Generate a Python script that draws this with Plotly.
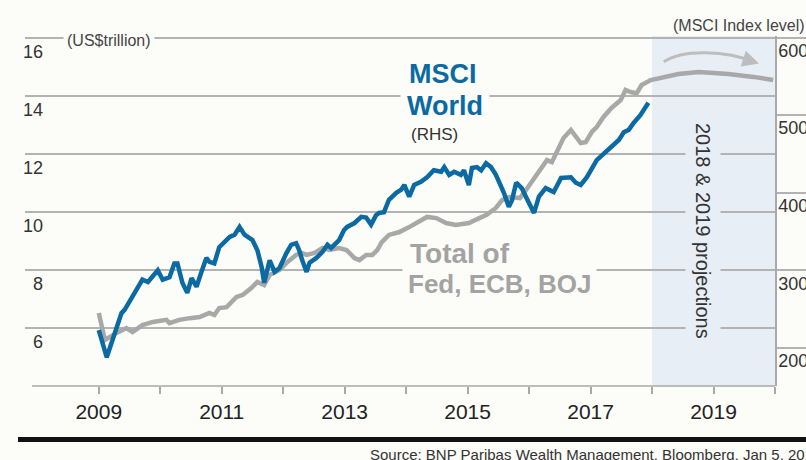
import plotly.graph_objects as go

# ---------------- data ----------------
msci_year = [2009.00, 2009.13, 2009.26, 2009.37, 2009.42, 2009.54, 2009.62, 2009.71, 2009.80, 2009.86,
             2009.96, 2010.04, 2010.15, 2010.23, 2010.28, 2010.36, 2010.44, 2010.51, 2010.59, 2010.67,
             2010.75, 2010.80, 2010.88, 2010.96, 2011.08, 2011.13, 2011.21, 2011.29, 2011.37, 2011.50,
             2011.58, 2011.65, 2011.69, 2011.78, 2011.86, 2011.94, 2012.05, 2012.13, 2012.21, 2012.26,
             2012.31, 2012.38, 2012.43, 2012.54, 2012.64, 2012.72, 2012.78, 2012.91, 2012.99, 2013.04,
             2013.16, 2013.27, 2013.35, 2013.43, 2013.51, 2013.56, 2013.64, 2013.72, 2013.84, 2013.92,
             2013.97, 2014.05, 2014.13, 2014.24, 2014.34, 2014.45, 2014.57, 2014.62, 2014.70, 2014.78,
             2014.89, 2014.94, 2015.02, 2015.07, 2015.15, 2015.22, 2015.30, 2015.38, 2015.46, 2015.54,
             2015.59, 2015.67, 2015.72, 2015.79, 2015.88, 2015.96, 2016.08, 2016.16, 2016.27, 2016.40,
             2016.52, 2016.68, 2016.76, 2016.84, 2016.94, 2017.10, 2017.25, 2017.38, 2017.46, 2017.54,
             2017.62, 2017.70, 2017.81, 2017.94]
msci_value = [223, 188, 219, 245, 249, 266, 277, 288, 285, 290,
              300, 288, 291, 309, 309, 284, 271, 290, 279, 298,
              316, 311, 309, 330, 339, 343, 346, 356, 346, 339,
              326, 304, 284, 313, 298, 303, 322, 333, 335, 326,
              313, 298, 310, 316, 324, 333, 329, 339, 352, 356,
              361, 369, 368, 359, 371, 374, 375, 391, 400, 404,
              410, 395, 410, 414, 420, 429, 427, 433, 423, 427,
              423, 429, 410, 432, 433, 429, 438, 433, 423, 410,
              400, 382, 390, 413, 406, 393, 374, 395, 406, 401,
              419, 420, 413, 410, 420, 442, 453, 464, 468, 478,
              481, 490, 500, 516]

cb_year = [2009.00, 2009.10, 2009.29, 2009.45, 2009.55, 2009.71, 2009.88, 2010.10, 2010.15, 2010.31,
           2010.48, 2010.64, 2010.80, 2010.88, 2010.96, 2011.08, 2011.24, 2011.34, 2011.48, 2011.58,
           2011.69, 2011.78, 2011.94, 2012.07, 2012.21, 2012.30, 2012.38, 2012.51, 2012.64, 2012.75,
           2012.91, 2013.03, 2013.16, 2013.24, 2013.35, 2013.45, 2013.53, 2013.60, 2013.72, 2013.89,
           2014.05, 2014.21, 2014.34, 2014.49, 2014.65, 2014.81, 2015.02, 2015.19, 2015.31, 2015.46,
           2015.56, 2015.68, 2015.85, 2015.95, 2016.03, 2016.13, 2016.21, 2016.29, 2016.37, 2016.48,
           2016.56, 2016.68, 2016.76, 2016.84, 2016.92, 2017.02, 2017.10, 2017.21, 2017.34, 2017.49,
           2017.57, 2017.65, 2017.75, 2017.83, 2017.98, 2018.11, 2018.43, 2018.76, 2019.24, 2019.65,
           2019.97]
cb_value = [6.52, 5.59, 5.83, 6.00, 5.86, 6.10, 6.21, 6.28, 6.17, 6.28,
            6.34, 6.38, 6.52, 6.45, 6.69, 6.72, 7.07, 7.14, 7.38, 7.59,
            7.48, 7.83, 8.00, 8.28, 8.52, 8.59, 8.52, 8.59, 8.76, 8.69,
            8.76, 8.69, 8.41, 8.34, 8.52, 8.52, 8.69, 8.95, 9.21, 9.31,
            9.48, 9.66, 9.83, 9.79, 9.62, 9.55, 9.62, 9.79, 9.90, 10.14,
            10.41, 10.52, 10.48, 10.76, 11.00, 11.28, 11.52, 11.79, 11.72, 12.24,
            12.55, 12.83, 12.59, 12.38, 12.41, 12.76, 12.93, 13.28, 13.59, 13.86,
            14.21, 14.14, 14.10, 14.38, 14.55, 14.62, 14.76, 14.83, 14.76, 14.66,
            14.55]

left_ticks = [6, 8, 10, 12, 14, 16]
right_ticks = [200, 300, 400, 500, 600]
x_tick_years = list(range(2009, 2021))
x_tick_text = [str(y) if y % 2 == 1 else "" for y in x_tick_years]
projection_span = [2018, 2020]

# ---------------- styling / layout ----------------
W, H = 806, 460
L, R, T, B = 25, 775, 36, 386
BG = "#fcfcf8"
SHADE = "#e8eef5"
GRID = "#b3b3b3"
BLUE = "#0b6aa2"
GREY_LINE = "#a8a8a8"
GREY_TEXT = "#a3a3a3"
FONT = "Liberation Sans, Arial, sans-serif"


def px(x):
    return (x - L) / (R - L)


def py(y):
    return (B - y) / (B - T)


fig = go.Figure()
fig.add_trace(go.Scatter(x=cb_year, y=cb_value, mode="lines",
                         line=dict(color=GREY_LINE, width=4.5), yaxis="y",
                         hoverinfo="skip", showlegend=False))
fig.add_trace(go.Scatter(x=msci_year, y=msci_value, mode="lines",
                         line=dict(color=BLUE, width=4.5), yaxis="y2",
                         hoverinfo="skip", showlegend=False))

shapes = [
    dict(type="rect", xref="x", yref="paper", x0=projection_span[0], x1=projection_span[1],
         y0=0, y1=1, fillcolor=SHADE, line=dict(width=0), layer="below"),
    # x baseline
    dict(type="line", xref="paper", yref="paper", x0=px(32), x1=1, y0=0, y1=0,
         line=dict(color="#a9a9a9", width=1.5)),
    # heavy rule at bottom
    dict(type="line", xref="paper", yref="paper", x0=px(18), x1=px(830), y0=py(439.5), y1=py(439.5),
         line=dict(color="#111111", width=5)),
    # curved projection arrow
    dict(type="path", xref="x", yref="y",
         path="M 2018.19,15.18 C 2018.5,15.62 2019.2,15.58 2019.68,15.16",
         line=dict(color="#bdbdbd", width=3)),
]

annotations = [
    dict(x=2019.74, y=15.12, ax=2019.56, ay=15.24, xref="x", yref="y", axref="x", ayref="y",
         text="", showarrow=True, arrowhead=2, arrowsize=1.1, arrowwidth=3, arrowcolor="#bdbdbd"),
    dict(x=px(63), y=py(40), xref="paper", yref="paper", xanchor="left", yanchor="middle",
         text="(US$trillion)", showarrow=False, font=dict(family=FONT, size=16, color="#444"),
         bgcolor=BG, borderpad=3),
    dict(x=px(671), y=py(25), xref="paper", yref="paper", xanchor="left", yanchor="middle",
         text="(MSCI Index level)", showarrow=False, font=dict(family=FONT, size=16, color="#444")),
    dict(x=px(408), y=py(74), xref="paper", yref="paper", xanchor="left", yanchor="middle",
         text="<b>MSCI</b>", showarrow=False, font=dict(family=FONT, size=27, color=BLUE),
         bgcolor=BG, borderpad=0),
    dict(x=px(400), y=py(106), xref="paper", yref="paper", xanchor="left", yanchor="middle",
         text="<b>World</b>", showarrow=False, font=dict(family=FONT, size=27, color=BLUE),
         bgcolor=BG, borderpad=6),
    dict(x=px(409), y=py(134), xref="paper", yref="paper", xanchor="left", yanchor="middle",
         text="(RHS)", showarrow=False, font=dict(family=FONT, size=17, color="#333")),
    dict(x=px(408), y=py(253), xref="paper", yref="paper", xanchor="left", yanchor="middle",
         text="<b>Total of</b>", showarrow=False, font=dict(family=FONT, size=28, color=GREY_TEXT)),
    dict(x=px(402), y=py(284), xref="paper", yref="paper", xanchor="left", yanchor="middle",
         text="<b>Fed, ECB, BOJ</b>", showarrow=False, font=dict(family=FONT, size=26, color=GREY_TEXT),
         bgcolor=BG, borderpad=5),
    dict(x=px(703), y=py(231), xref="paper", yref="paper", xanchor="center", yanchor="middle",
         text="2018 & 2019 projections", textangle=90, showarrow=False,
         font=dict(family=FONT, size=20, color="#333"), bgcolor=SHADE, borderpad=6),
    dict(x=px(368), y=py(454), xref="paper", yref="paper", xanchor="left", yanchor="middle",
         text="Source: BNP Paribas Wealth Management, Bloomberg, Jan 5, 2018", showarrow=False,
         font=dict(family=FONT, size=15, color="#333")),
]

fig.update_layout(
    template="none",
    width=W, height=H,
    margin=dict(l=L, r=W - R, t=T, b=H - B, pad=0, autoexpand=False),
    paper_bgcolor=BG, plot_bgcolor=BG,
    font=dict(family=FONT, color="#333"),
    xaxis=dict(range=[2007.8, 2020.0], tickvals=x_tick_years, ticktext=x_tick_text,
               ticks="outside", ticklen=7, tickwidth=1.5, tickcolor="#a9a9a9", automargin=False,
               showgrid=False, zeroline=False, showline=False,
               tickfont=dict(family=FONT, size=21, color="#222")),
    yaxis=dict(range=[4, 16.07], tickvals=left_ticks, showgrid=True, gridcolor=GRID, gridwidth=1.5,
               zeroline=False, showline=False, ticks="", automargin=False,
               ticklabelposition="outside", ticklabelstandoff=-19, ticklabelshift=14,
               tickfont=dict(family=FONT, size=18, color="#333")),
    yaxis2=dict(range=[151, 602], tickvals=right_ticks, overlaying="y", side="right",
                showgrid=False, zeroline=False, showline=True, linecolor="#a9a9a9", linewidth=1.5,
                ticks="outside", ticklen=31, tickwidth=1.5, tickcolor=GRID, automargin=False,
                ticklabelstandoff=-33, ticklabelshift=13,
                tickfont=dict(family=FONT, size=18, color="#333")),
    shapes=shapes,
    annotations=annotations,
    showlegend=False,
)

fig.write_html("out.html")
